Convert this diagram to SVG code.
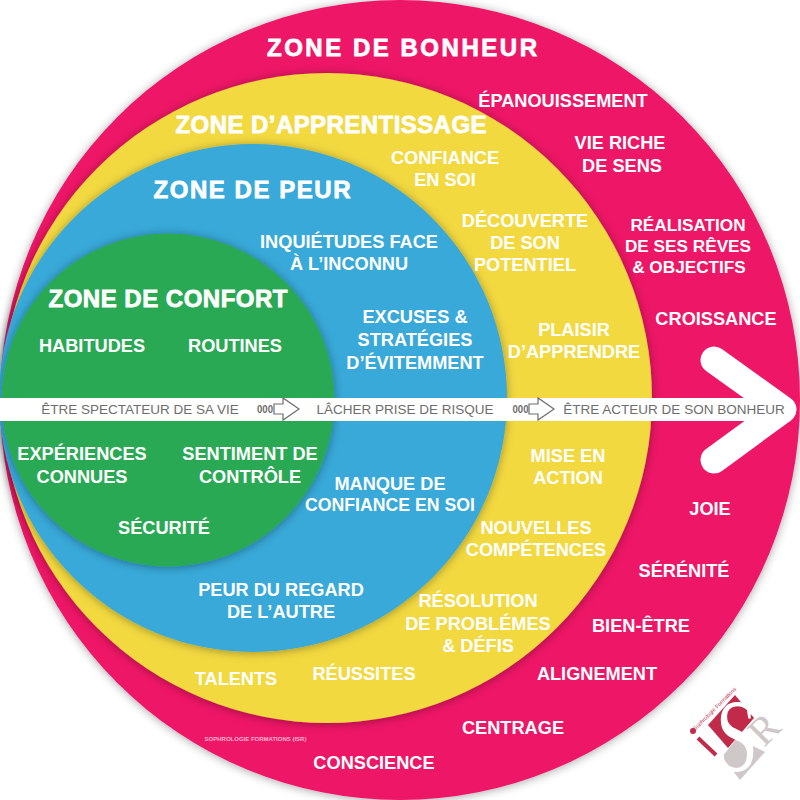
<svg xmlns="http://www.w3.org/2000/svg" width="800" height="800" viewBox="0 0 800 800">
<style>
text{font-family:"Liberation Sans",Arial,sans-serif;font-weight:700;fill:#fff;font-size:18.2px;text-anchor:middle}
.z{font-size:24px;stroke:#fff;stroke-width:.8}
.g{font-weight:400;fill:#6d6d6d;font-size:13.5px}
.o{font-weight:700;fill:#6d6d6d;font-size:11px}
.s{filter:url(#sh)}
</style>
<defs>
<filter id="sh" x="-10%" y="-10%" width="120%" height="120%"><feDropShadow dx="0" dy="1" stdDeviation="5" flood-color="#000" flood-opacity=".35"/></filter>
</defs>
<rect width="800" height="800" fill="#fff"/>
<g id="zone-bonheur"><circle class="s" cx="400" cy="400" r="400" fill="#ee1866"/><text class="z" x="402" y="56" textLength="270">ZONE DE BONHEUR</text></g>
<g id="zone-apprentissage"><circle class="s" cx="327" cy="398" r="325" fill="#f3d940"/><text class="z" x="331" y="133" textLength="311">ZONE D’APPRENTISSAGE</text></g>
<g id="zone-peur"><circle class="s" cx="253" cy="398" r="254" fill="#39a9d9"/><text class="z" x="252" y="198" textLength="197">ZONE DE PEUR</text></g>
<g id="zone-confort"><circle class="s" cx="168" cy="400" r="166.500" fill="#2aa955"/><text class="z" x="168" y="307" textLength="239">ZONE DE CONFORT</text></g>
<g id="connectors">
<path d="M0 409.500H784" stroke="#fff" stroke-width="23" fill="none"/>
<path d="M714 360L783 409.500L714 460" stroke="#fff" stroke-width="27" stroke-linecap="round" stroke-linejoin="round" fill="none"/>
<path id="a1" d="M274 404H283V398L299 409L283 420V414H274Z" fill="#fff" stroke="#6d6d6d" stroke-width="1.2"/>
<path id="a2" d="M529 404H538V398L554 409L538 420V414H529Z" fill="#fff" stroke="#6d6d6d" stroke-width="1.2"/>
<text class="o" x="265" y="413" textLength="16" lengthAdjust="spacingAndGlyphs">000</text>
<text class="o" x="520.500" y="413" textLength="16" lengthAdjust="spacingAndGlyphs">000</text>
</g>
<g id="labels-axe">
<text class="g" x="140" y="414">ÊTRE SPECTATEUR DE SA VIE</text>
<text class="g" x="405" y="414">LÂCHER PRISE DE RISQUE</text>
<text class="g" x="674" y="414">ÊTRE ACTEUR DE SON BONHEUR</text>
</g>
<g id="labels-confort">
<text x="92" y="352">HABITUDES</text>
<text x="235" y="352">ROUTINES</text>
<text x="82" y="460">EXPÉRIENCES</text><text x="82" y="483">CONNUES</text>
<text x="250" y="460">SENTIMENT DE</text><text x="250" y="483">CONTRÔLE</text>
<text x="164" y="534">SÉCURITÉ</text>
</g>
<g id="labels-peur">
<text x="349" y="248">INQUIÉTUDES FACE</text><text x="349" y="270">À L’INCONNU</text>
<text x="415" y="323">EXCUSES &amp;</text><text x="415" y="346">STRATÉGIES</text><text x="415" y="369">D’ÉVITEMMENT</text>
<text x="390" y="490">MANQUE DE</text><text x="390" y="511" style="font-size:17.700px">CONFIANCE EN SOI</text>
<text x="281" y="596">PEUR DU REGARD</text><text x="281" y="618">DE L’AUTRE</text>
</g>
<g id="labels-apprentissage">
<text x="445" y="164">CONFIANCE</text><text x="445" y="186">EN SOI</text>
<text x="525" y="227">DÉCOUVERTE</text><text x="525" y="249">DE SON</text><text x="525" y="271">POTENTIEL</text>
<text x="574" y="336">PLAISIR</text><text x="574" y="358">D’APPRENDRE</text>
<text x="568" y="462">MISE EN</text><text x="568" y="484">ACTION</text>
<text x="536" y="534">NOUVELLES</text><text x="536" y="556">COMPÉTENCES</text>
<text x="478" y="607">RÉSOLUTION</text><text x="478" y="630">DE PROBLÉMES</text><text x="478" y="652">&amp; DÉFIS</text>
<text x="236" y="685">TALENTS</text>
<text x="364" y="680">RÉUSSITES</text>
</g>
<g id="labels-bonheur">
<text x="563" y="107">ÉPANOUISSEMENT</text>
<text x="620" y="149">VIE RICHE</text><text x="622" y="172">DE SENS</text>
<text x="688" y="231" style="font-size:17.2px">RÉALISATION</text><text x="688" y="252" style="font-size:17.2px">DE SES RÊVES</text><text x="689" y="273" style="font-size:17.2px">&amp; OBJECTIFS</text>
<text x="716" y="325">CROISSANCE</text>
<text x="710" y="515">JOIE</text>
<text x="684" y="577">SÉRÉNITÉ</text>
<text x="641" y="632">BIEN-ÊTRE</text>
<text x="597" y="680">ALIGNEMENT</text>
<text x="513" y="734">CENTRAGE</text>
<text x="374" y="769">CONSCIENCE</text>
<text x="255.500" y="741" style="font-size:6px;fill:#f9b6d0">SOPHROLOGIE FORMATIONS (ISR)</text>
</g>
<g id="logo">
<path d="M735 695L754 718L728 748L708 725Z" fill="#c22a4a"/>
<path d="M737 738L765 752L740 780L722 757Z" fill="#cfc8c8"/>
<text transform="translate(737 771) scale(.76 1.03)" style="font-family:'Liberation Serif',serif;font-size:100px;font-weight:400;fill:#fff">S</text>
<text transform="translate(764 748) rotate(-45)" style="font-family:'Liberation Serif',serif;font-size:40px;font-weight:400;fill:#cfc8c8;text-anchor:start">R</text>
<circle cx="693" cy="731" r="3" fill="#c22a4a"/>
<path d="M698 738L716 755" stroke="#c22a4a" stroke-width="4"/>
<text transform="translate(716 710) rotate(-45)" style="font-size:5.500px;font-weight:400;fill:#c22a4a">Sophrologie Formations</text>
</g>
</svg>
